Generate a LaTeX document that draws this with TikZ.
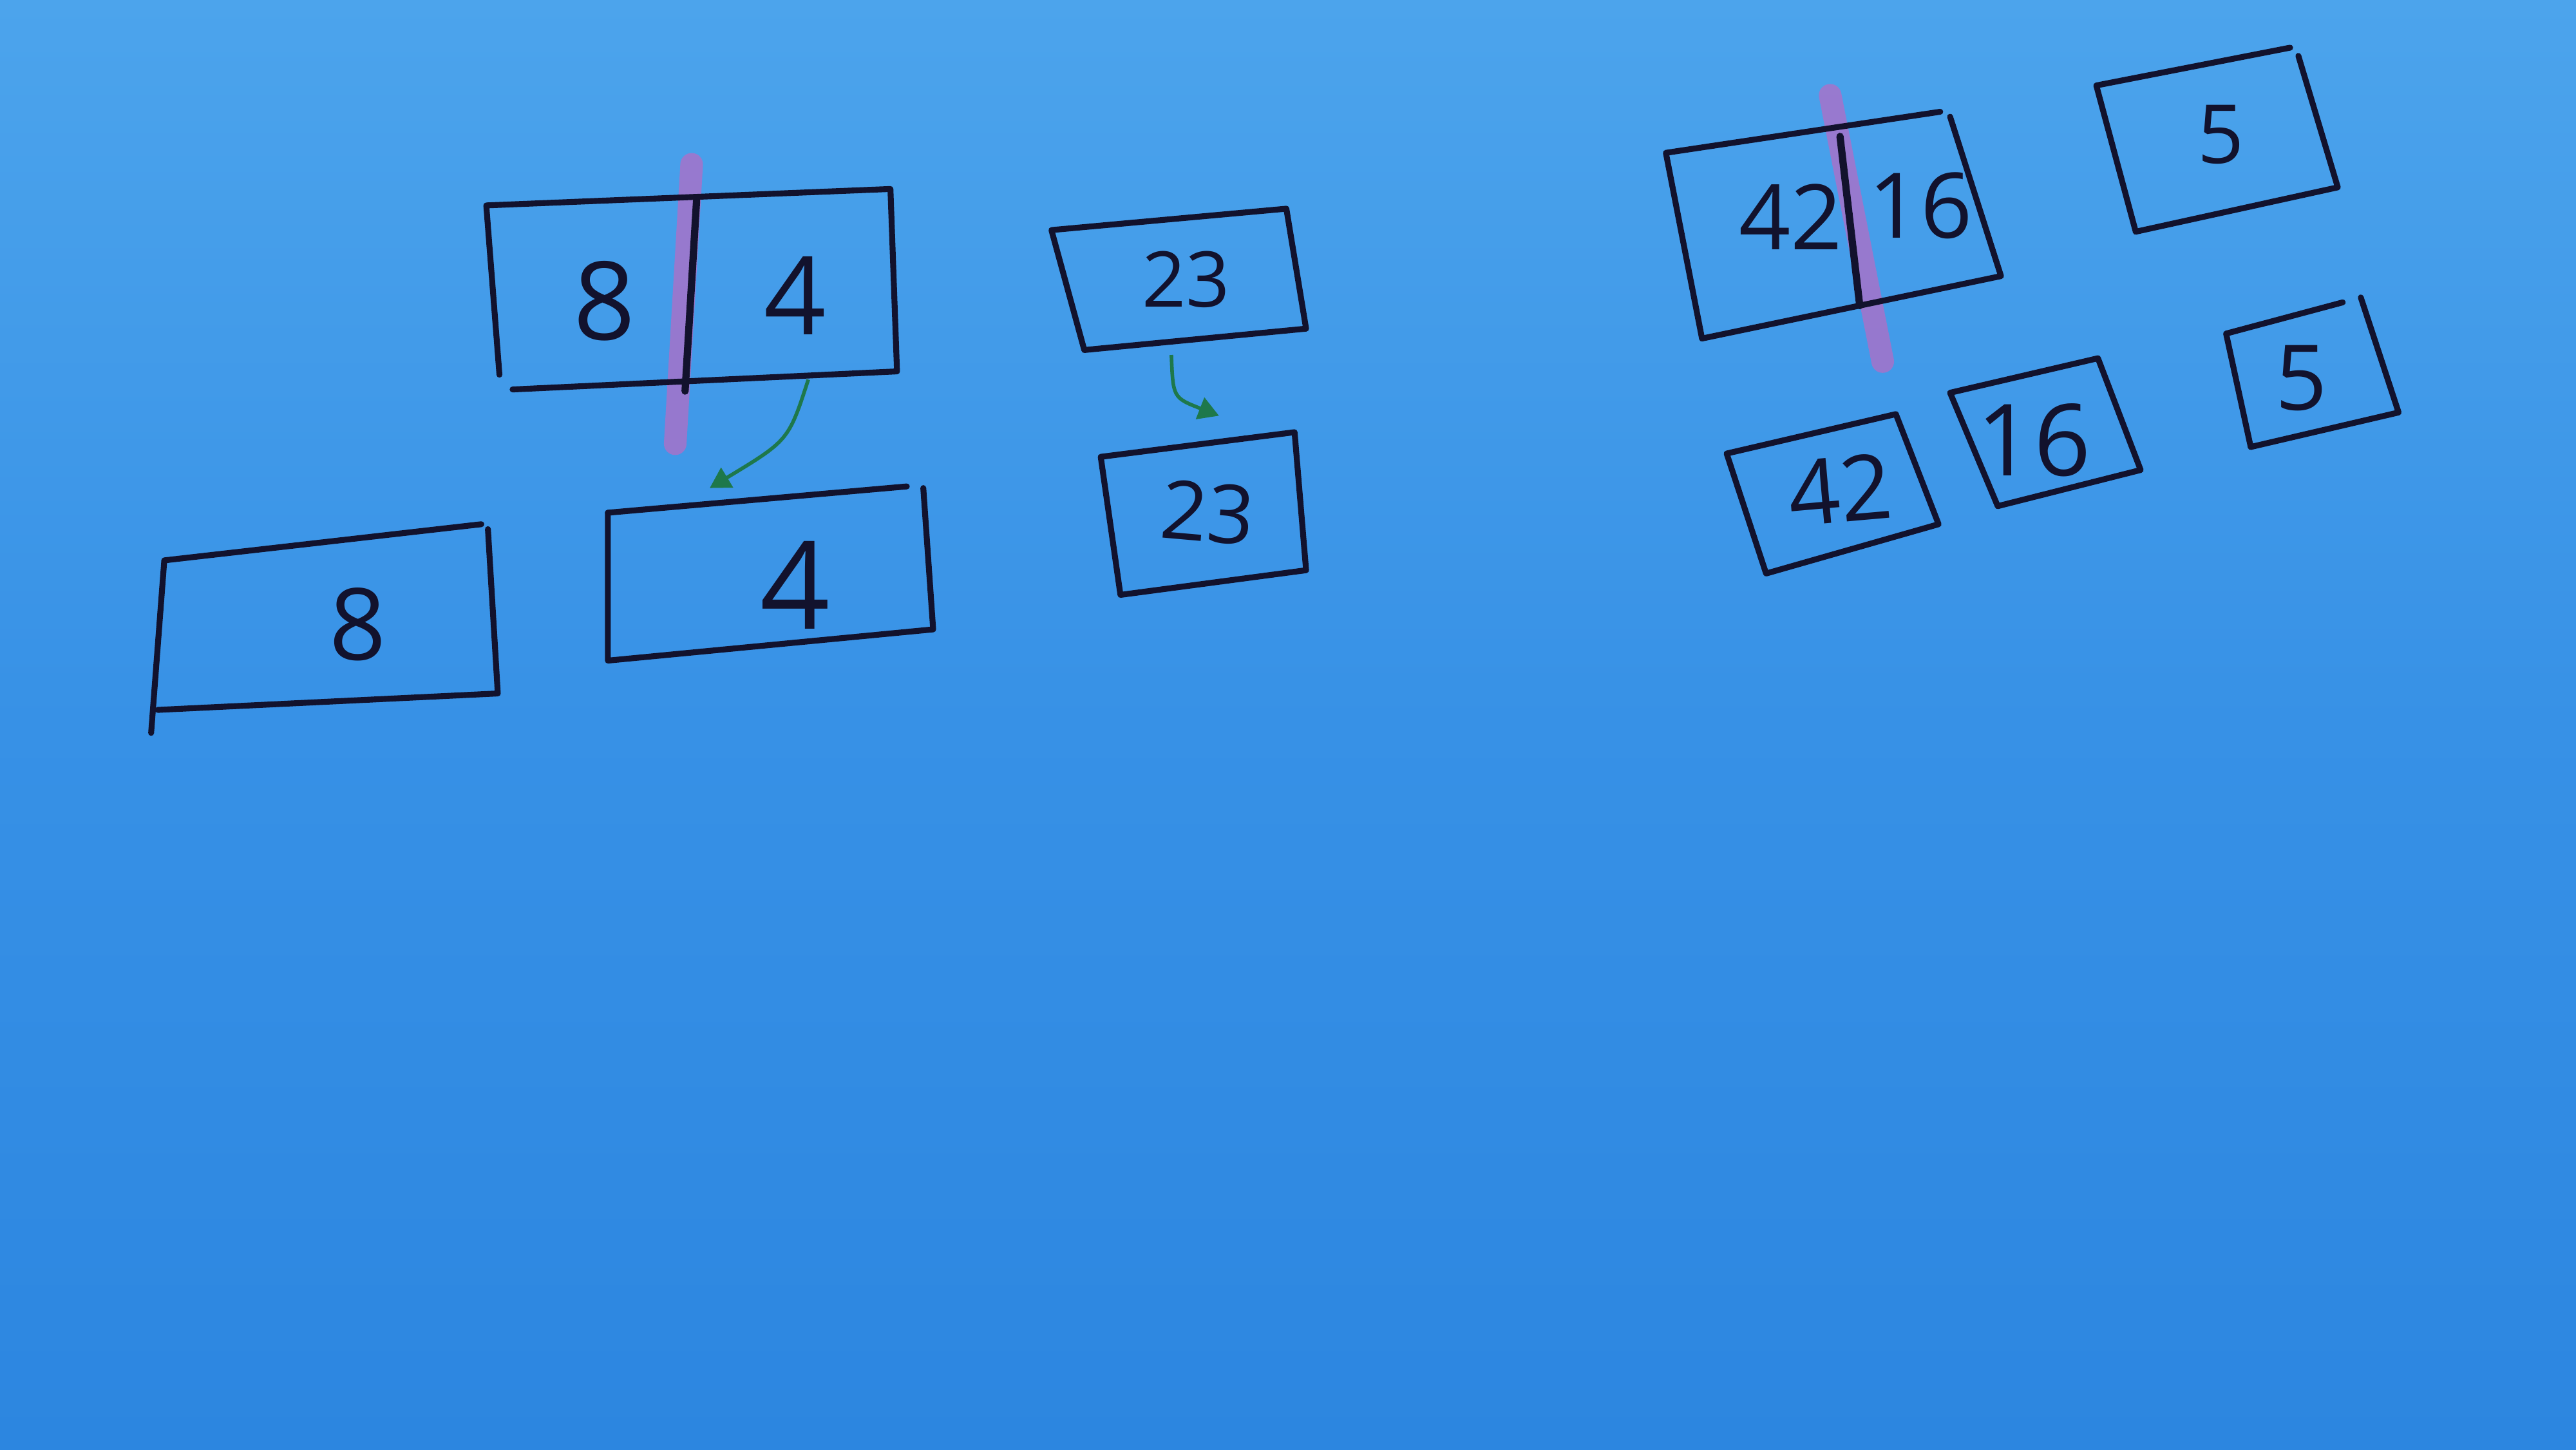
\documentclass[tikz,border=0pt]{standalone}
\usepackage{fontspec}
\setmainfont{Open Sans}
\usetikzlibrary{arrows.meta}
\definecolor{bgtop}{RGB}{76,164,236}
\definecolor{bgmid}{RGB}{55,145,230}
\definecolor{bgbot}{RGB}{44,134,224}
\definecolor{ink}{RGB}{18,18,45}
\definecolor{hl}{RGB}{172,112,200}
\definecolor{grn}{RGB}{30,120,75}
\begin{document}
\begin{tikzpicture}[x=0.02551cm,y=-0.02551cm,
 box/.style={draw=ink,line width=2.6pt,line join=round,line cap=round},
 divider/.style={draw=ink,line width=3.2pt,line cap=round},
 num/.style={font=\fontsize{#1}{#1}\selectfont,text=ink,inner sep=0pt},
 hilite/.style={draw=hl,opacity=0.8,line width=10pt,line cap=round},
 flow/.style={draw=grn,line width=1.6pt,-{Triangle[width=10pt,length=9pt]}}]
\shade[top color=bgtop,bottom color=bgbot,middle color=bgmid] (0,0) rectangle (1568,882);
\useasboundingbox (0,0) rectangle (1568,882);
% highlights
\draw[hilite] (421,100) -- (411,270);
\draw[hilite] (1114,58) -- (1146,220);
% box 8|4
\draw[box] (304,228) -- (296,125) -- (542,115) -- (546,226) -- (312,237);
\draw[divider] (424,122) -- (417,238);
\node[num=48] (t8) at (368,183) {8};
\node[num=48] (t4) at (484,180) {4};
% box 23 top
\draw[box] (660,213) -- (640,140) -- (783,127) -- (795,200) -- cycle;
\node[num=34] (t23) at (722,170) {23};
% box 8 bottom
\draw[box] (92,446) -- (100,341) -- (293,319);
\draw[box] (297,322) -- (303,422) -- (96,432);
\node[num=44] (b8) at (218,380) {8};
% box 4 bottom
\draw[box] (370,312) -- (552,296);
\draw[box] (562,297) -- (568,383) -- (370,402) -- (370,312);
\node[num=54] (b4) at (484,356) {4};
% box 23 bottom
\draw[box] (670,278) -- (788,263) -- (795,347) -- (682,362) -- cycle;
\node[num=36,rotate=-5] (b23) at (735,312) {23};
% arrows
\coordinate (a1s) at (492,231);
\coordinate (a1e) at (432,297);
\coordinate (a2s) at (713,216);
\coordinate (a2e) at (742,253);
\draw[flow] (a1s) .. controls (480,268) .. (a1e);
\draw[flow] (a2s) .. controls (714,242) .. (a2e);
% box 42|16
\draw[box] (1036,206) -- (1014,93) -- (1181,68);
\draw[box] (1187,71) -- (1218,168) -- (1036,206);
\draw[divider] (1120,83) -- (1132,186);
\node[num=40] (t42) at (1090,132) {42};
\node[num=40] (t16) at (1169,125) {16};
% box 5 top
\draw[box] (1300,141) -- (1276,52) -- (1394,29);
\draw[box] (1399,34) -- (1423,114) -- (1300,141);
\node[num=36] (t5) at (1352,82) {5};
% box 42 bottom
\draw[box] (1051,276) -- (1154,252) -- (1180,319) -- (1075,349) -- cycle;
\node[num=40,rotate=5] (b42) at (1120,298) {42};
% box 16 bottom
\draw[box] (1216,308) -- (1187,239) -- (1277,218) -- (1303,286) -- cycle;
\node[num=44] (b16) at (1238,268) {16};
% box 5 bottom
\draw[box] (1370,272) -- (1355,203) -- (1426,184);
\draw[box] (1437,181) -- (1460,251) -- (1370,272);
\node[num=40] (b5) at (1401,230) {5};
\end{tikzpicture}
\end{document}
